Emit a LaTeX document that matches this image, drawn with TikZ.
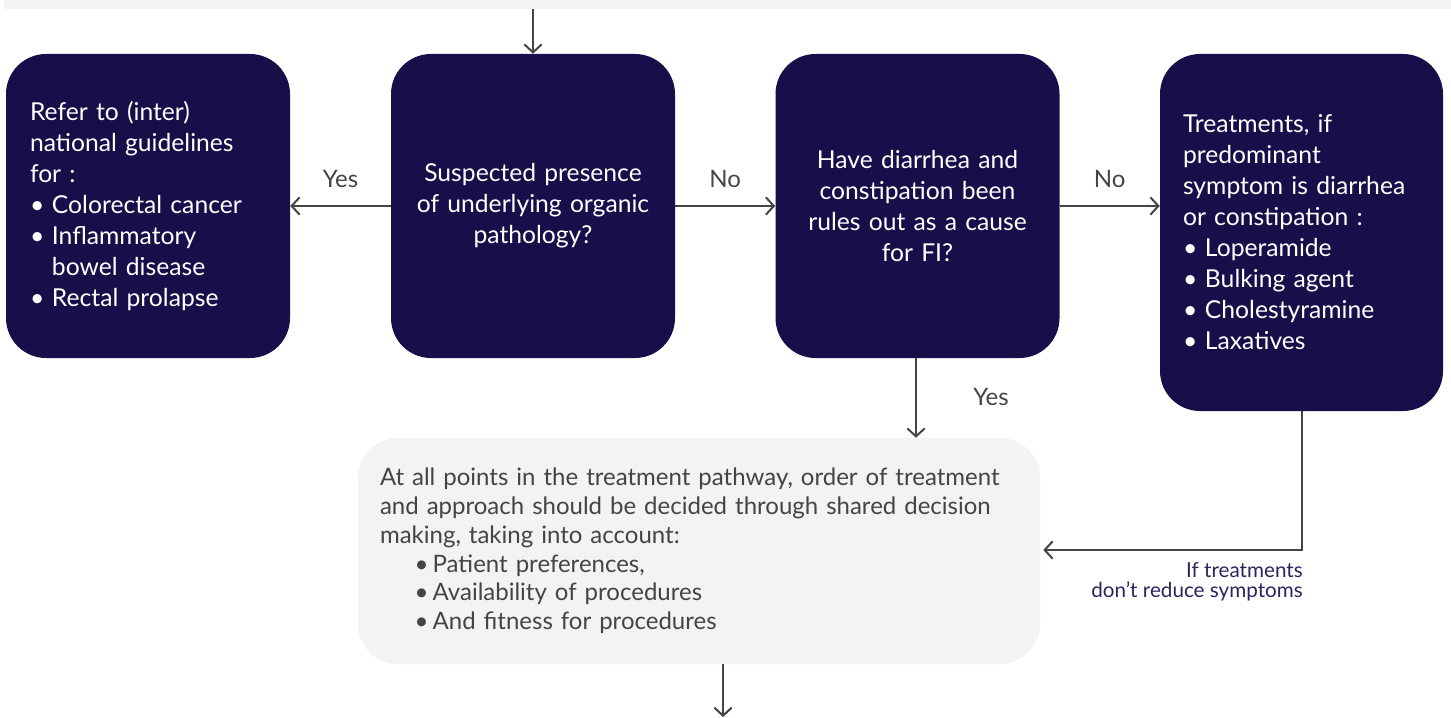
\documentclass[tikz,border=0pt]{standalone}
\usepackage{fontspec}
\setmainfont{Lato}
\usetikzlibrary{arrows.meta,calc}
\definecolor{navy}{HTML}{160F4A}
\definecolor{arrowgray}{HTML}{444444}
\definecolor{paleg}{HTML}{F3F3F3}
\definecolor{labelnavy}{HTML}{2A2560}
\newcommand\bul{\makebox[16.5pt][l]{\textbullet}}
\newcommand\bulb{\hspace*{26pt}\makebox[13.5pt][l]{\textbullet}}
\begin{document}
\begin{tikzpicture}[x=0.75pt,y=-0.75pt,
  darkbox/.style={rectangle, rounded corners=30pt, fill=navy, text=white, inner sep=0pt,
    font=\fontsize{18.5pt}{23.25pt}\selectfont, minimum width=213pt, minimum height=228pt},
  lightbox/.style={rectangle, rounded corners=30pt, fill=paleg, text=arrowgray, inner sep=0pt,
    font=\fontsize{18pt}{21.6pt}\selectfont, minimum width=511.5pt, minimum height=169.5pt,
    text width=478.5pt, align=left},
  arr/.style={draw=arrowgray, line width=1.5pt, -{Straight Barb[length=6pt,width=13pt,line width=1.5pt]}},
  lbl/.style={text=arrowgray, font=\fontsize{18pt}{20pt}\selectfont, inner sep=0pt},
  smalllbl/.style={text=labelnavy, font=\fontsize{15.5pt}{15pt}\selectfont, inner sep=0pt, align=right}
]
\useasboundingbox (0,0) rectangle (1451,717);
\node[fill=paleg, inner sep=0pt, minimum width=1085.25pt, minimum height=6.75pt] (band) at (727.5,4.5) {};

\node[darkbox, text width=177pt, align=left] (b1) at (148,206) {Refer to (inter)\\national guidelines\\for :\\\bul Colorectal cancer\\\bul Inflammatory\\\hspace*{16.5pt}bowel disease\\\bul Rectal prolapse};
\node[darkbox, text width=200pt, align=center] (b2) at (533,206) {Suspected presence\\of underlying organic\\pathology?};
\node[darkbox, text width=200pt, align=center] (b3) at (917.5,206) {Have diarrhea and\\constipation been\\rules out as a cause\\for FI?};
\node[darkbox, minimum width=212.25pt, minimum height=267.75pt, text width=177.75pt, align=left] (b4) at (1301.5,232.5) {Treatments, if\\predominant\\symptom is diarrhea\\or constipation :\\\bul Loperamide\\\bul Bulking agent\\\bul Cholestyramine\\\bul Laxatives};
\node[lightbox] (bot) at (699,551) {At all points in the treatment pathway, order of treatment\\and approach should be decided through shared decision\\making, taking into account:\\\bulb Patient preferences,\\\bulb Availability of procedures\\\bulb And fitness for procedures};

\coordinate (endpt) at (723,717);
\coordinate (botout) at (723,664);

\draw[arr] (band.south -| b2.north) -- (b2.north);
\draw[arr] (b2.west) -- (b1.east) node[lbl, midway, yshift=20pt] (yes1) {Yes};
\draw[arr] (b2.east) -- (b3.west) node[lbl, midway, yshift=20pt] (no1) {No};
\draw[arr] (b3.east) -- (b3.east -| b4.west) node[lbl, midway, yshift=20pt] (no2) {No};
\draw[arr] (b3.south -| 916,0) -- (bot.north -| 916,0);
\node[lbl] (yes2) at (991,397) {Yes};
\draw[arr] (b4.south) |- ($(bot.east)+(3,-1)$);
\node[smalllbl, anchor=north east] (iflbl) at (1303,562) {If treatments\\don't reduce symptoms};
\draw[arr] (botout) -- (endpt);
\end{tikzpicture}
\end{document}
